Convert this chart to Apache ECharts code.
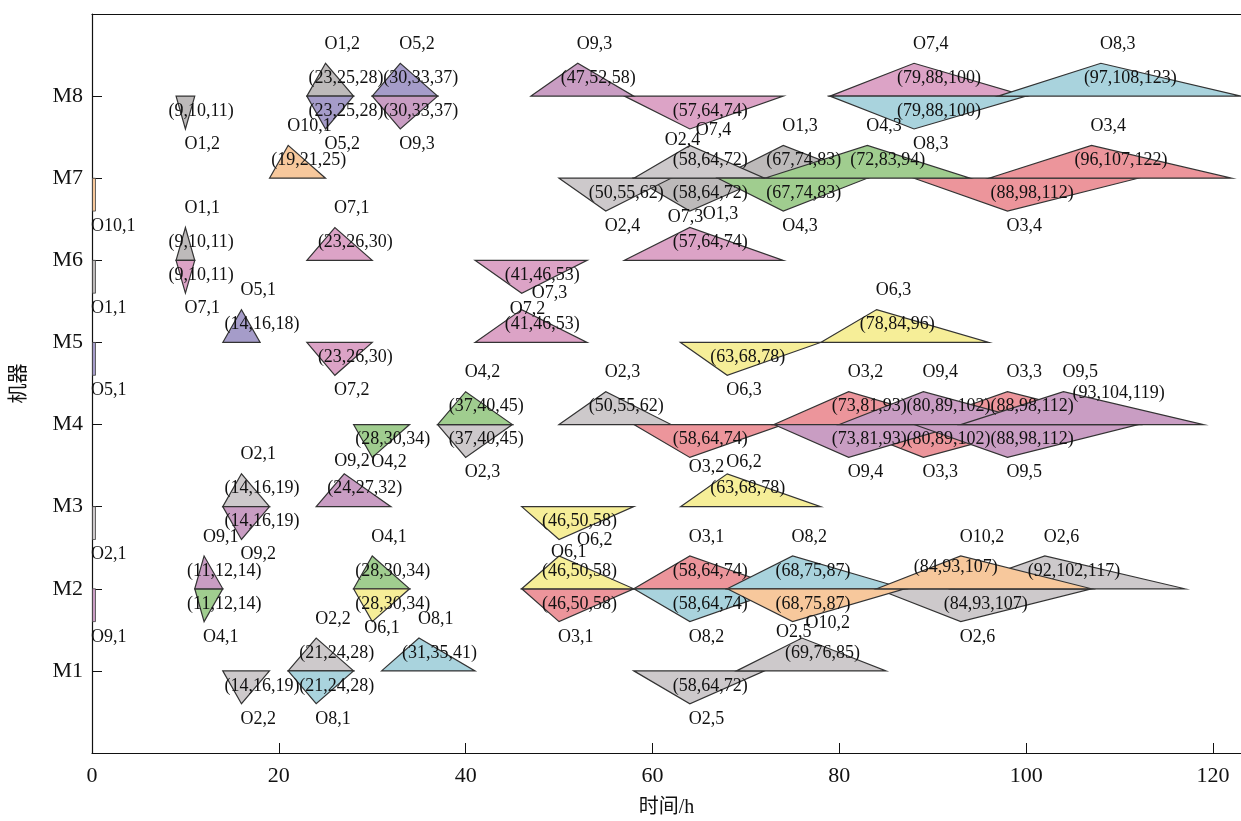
<!DOCTYPE html>
<html lang="zh">
    <head>
        <meta charset="utf-8">
        <title>模糊甘特图</title>
        <style>
            html, body { margin: 0; padding: 0; background: #fff; }
        </style>
    </head>

    <body>
        <div id="echart" style="width: 1241px; height: 821px;"></div>
        <script src="https://cdn.jsdelivr.net/npm/echarts@6.0.0/dist/echarts.min.js"></script>
        <script>
            // operations: name, machine, fuzzy start time, fuzzy end time
            const opNames = ['O1,1', 'O1,2', 'O1,3',
                'O2,1', 'O2,2', 'O2,3', 'O2,4', 'O2,5', 'O2,6',
                'O3,1', 'O3,2', 'O3,3', 'O3,4',
                'O4,1', 'O4,2', 'O4,3',
                'O5,1', 'O5,2',
                'O6,1', 'O6,2', 'O6,3',
                'O7,1', 'O7,2', 'O7,3', 'O7,4',
                'O8,1', 'O8,2', 'O8,3',
                'O9,1', 'O9,2', 'O9,3', 'O9,4', 'O9,5',
                'O10,1', 'O10,2'];
            const opMachine = [6, 8, 7,
                3, 1, 4, 7, 1, 2,
                2, 4, 4, 7,
                2, 4, 7,
                5, 8,
                2, 3, 5,
                6, 5, 6, 8,
                1, 2, 8,
                2, 3, 8, 4, 4,
                7, 2];
            const opStart = [[0, 0, 0], [9, 10, 11], [58, 64, 72],
                [0, 0, 0], [14, 16, 19], [37, 40, 45], [50, 55, 62], [58, 64, 72], [84, 93, 107],
                [46, 50, 58], [58, 64, 74], [80, 89, 102], [88, 98, 112],
                [11, 12, 14], [28, 30, 34], [67, 74, 83],
                [0, 0, 0], [23, 25, 28],
                [28, 30, 34], [46, 50, 58], [63, 68, 78],
                [9, 10, 11], [23, 26, 30], [41, 46, 53], [57, 64, 74],
                [21, 24, 28], [58, 64, 74], [79, 88, 100],
                [0, 0, 0], [14, 16, 19], [30, 33, 37], [73, 81, 93], [88, 98, 112],
                [0, 0, 0], [68, 75, 87]];
            const opEnd = [[9, 10, 11], [23, 25, 28], [67, 74, 83],
                [14, 16, 19], [21, 24, 28], [50, 55, 62], [58, 64, 72], [69, 76, 85], [92, 102, 117],
                [58, 64, 74], [73, 81, 93], [88, 98, 112], [96, 107, 122],
                [28, 30, 34], [37, 40, 45], [72, 83, 94],
                [14, 16, 18], [30, 33, 37],
                [46, 50, 58], [63, 68, 78], [78, 84, 96],
                [23, 26, 30], [41, 46, 53], [57, 64, 74], [79, 88, 100],
                [31, 35, 41], [68, 75, 87], [97, 108, 123],
                [11, 12, 14], [24, 27, 32], [47, 52, 58], [80, 89, 102], [93, 104, 119],
                [19, 21, 25], [84, 93, 107]];
            const machineLabels = ['M1', 'M2', 'M3', 'M4', 'M5', 'M6', 'M7', 'M8'];
            const xTicks = [0, 20, 40, 60, 80, 100, 120];

            // one colour per job
            const jobColors = ['#bdbaba', '#cdc9cb', '#ec959b', '#a0cd8f', '#a59cc9',
                '#f6ee98', '#dca3c6', '#a9d3dd', '#c99dc3', '#f7c89c'];

            // hand moved labels (pixels), like in the original figure
            const nameNudge = {
                'O6,1|end': [-7, 15], 'O6,2|start': [19, -14],
                'O7,3|start': [11, -15], 'O7,2|end': [-11, 19],
                'O2,4|end': [-24, 14], 'O7,4|start': [7, -14],
                'O7,3|end': [-21, 9], 'O1,3|start': [14, -12],
                'O2,5|end': [-25, 13], 'O10,2|start': [14, -14],
                'O6,2|end': [0, 8], 'O3,2|start': [0, -5],
                'O9,2|end': [-9, 7], 'O4,2|start': [0, -10],
                'O6,1|start': [-7, -9]
            };
            const fuzzyNudge = { 'O9,5|end': [26, -13], 'O10,2|end': [-30, -4] };

            const H = 0.4; // triangle height in machine units
            const font = '"Liberation Serif", "Noto Sans CJK SC", serif';

            // each triangle: a, b, c, machine, dir (+1 end / -1 start), op index
            let tris = [];
            opNames.forEach((name, i) => {
                let s = opStart[i], e = opEnd[i];
                tris.push([s[0], s[1], s[2], opMachine[i], -1, i]);
                tris.push([e[0], e[1], e[2], opMachine[i], 1, i]);
            });

            function jobOf(i) {
                return parseInt(opNames[i].slice(1).split(',')[0]) - 1;
            }

            function renderTri(params, api) {
                let m = api.value(3), dir = api.value(4), i = api.value(5);
                let pa = api.coord([api.value(0), m]);
                let pb = api.coord([api.value(1), m + dir * H]);
                let pc = api.coord([api.value(2), m]);
                let color = jobColors[jobOf(i)];
                if (pc[0] - pa[0] < 1) {
                    let y0 = Math.min(pa[1], pb[1]);
                    return {
                        type: 'rect',
                        shape: { x: pa[0] + 0.5, y: y0, width: 3, height: Math.abs(pb[1] - pa[1]) },
                        style: { fill: color, stroke: '#444', lineWidth: 0.8 }
                    };
                }
                return {
                    type: 'polygon',
                    shape: { points: [pa, pb, pc] },
                    style: { fill: color, stroke: '#333', lineWidth: 1.2, blend: 'multiply' }
                };
            }

            function renderLabel(params, api) {
                let m = api.value(3), dir = api.value(4), i = api.value(5);
                let a = api.value(0), b = api.value(1), c = api.value(2);
                let p = api.coord([b, m]);
                let key = opNames[i] + (dir > 0 ? '|end' : '|start');
                let nn = nameNudge[key] || [0, 0];
                let fn = fuzzyNudge[key] || [0, 0];
                let children = [{
                    type: 'text',
                    style: {
                        text: opNames[i], x: p[0] - 1 + nn[0], y: p[1] + (dir > 0 ? -52 : 48) + nn[1],
                        fill: '#111', fontSize: 18, fontFamily: font, align: 'left', verticalAlign: 'middle'
                    }
                }];
                if (c > a) {
                    children.push({
                        type: 'text',
                        style: {
                            text: '(' + a + ',' + b + ',' + c + ')', x: p[0] - 17 + fn[0], y: p[1] + (dir > 0 ? -18 : 15) + fn[1],
                            fill: '#111', fontSize: 18, fontFamily: font, align: 'left', verticalAlign: 'middle'
                        }
                    });
                }
                return { type: 'group', children: children };
            }

            let myChart = echarts.init(document.getElementById('echart'));
            let option = {
                animation: false,
                grid: { left: 92, right: 0, top: 14, bottom: 68, outerBoundsMode: 'none' },
                xAxis: [{
                    type: 'value', min: 0, max: 123, interval: 20,
                    name: '时间/h', nameLocation: 'middle', nameGap: 45,
                    nameTextStyle: { fontSize: 20, fontFamily: font, color: '#111' },
                    axisLine: { lineStyle: { color: '#111', width: 1.2 } },
                    axisTick: { inside: true, length: 10, customValues: xTicks, lineStyle: { color: '#111' } },
                    axisLabel: { fontSize: 22, fontFamily: font, color: '#111', margin: 12, customValues: xTicks },
                    splitLine: { show: false }
                }, {
                    type: 'value', position: 'top', min: 0, max: 123,
                    axisLine: { show: true, lineStyle: { color: '#111', width: 1.2 } },
                    axisTick: { show: false }, axisLabel: { show: false }, splitLine: { show: false }
                }],
                yAxis: {
                    type: 'value', min: 0, max: 9, interval: 1,
                    name: '机器', nameLocation: 'middle', nameGap: 62, nameRotate: 90,
                    nameTextStyle: { fontSize: 20, fontFamily: font, color: '#111' },
                    axisLine: { show: true, lineStyle: { color: '#111', width: 1.2 } },
                    axisTick: { inside: true, length: 10, customValues: [1, 2, 3, 4, 5, 6, 7, 8], lineStyle: { color: '#111' } },
                    axisLabel: {
                        fontSize: 22, fontFamily: font, color: '#111', margin: 9,
                        customValues: [1, 2, 3, 4, 5, 6, 7, 8],
                        formatter: v => machineLabels[v - 1] || ''
                    },
                    splitLine: { show: false }
                },
                series: [{
                    type: 'custom', xAxisIndex: 0, yAxisIndex: 0,
                    renderItem: renderTri, data: tris, encode: { x: [0, 1, 2], y: 3 }, z: 2
                }, {
                    type: 'custom', xAxisIndex: 0, yAxisIndex: 0, silent: true, clip: false,
                    renderItem: renderLabel, data: tris, encode: { x: [0, 1, 2], y: 3 }, z: 5
                }]
            };
            myChart.setOption(option);
        </script>
    </body>
</html>
